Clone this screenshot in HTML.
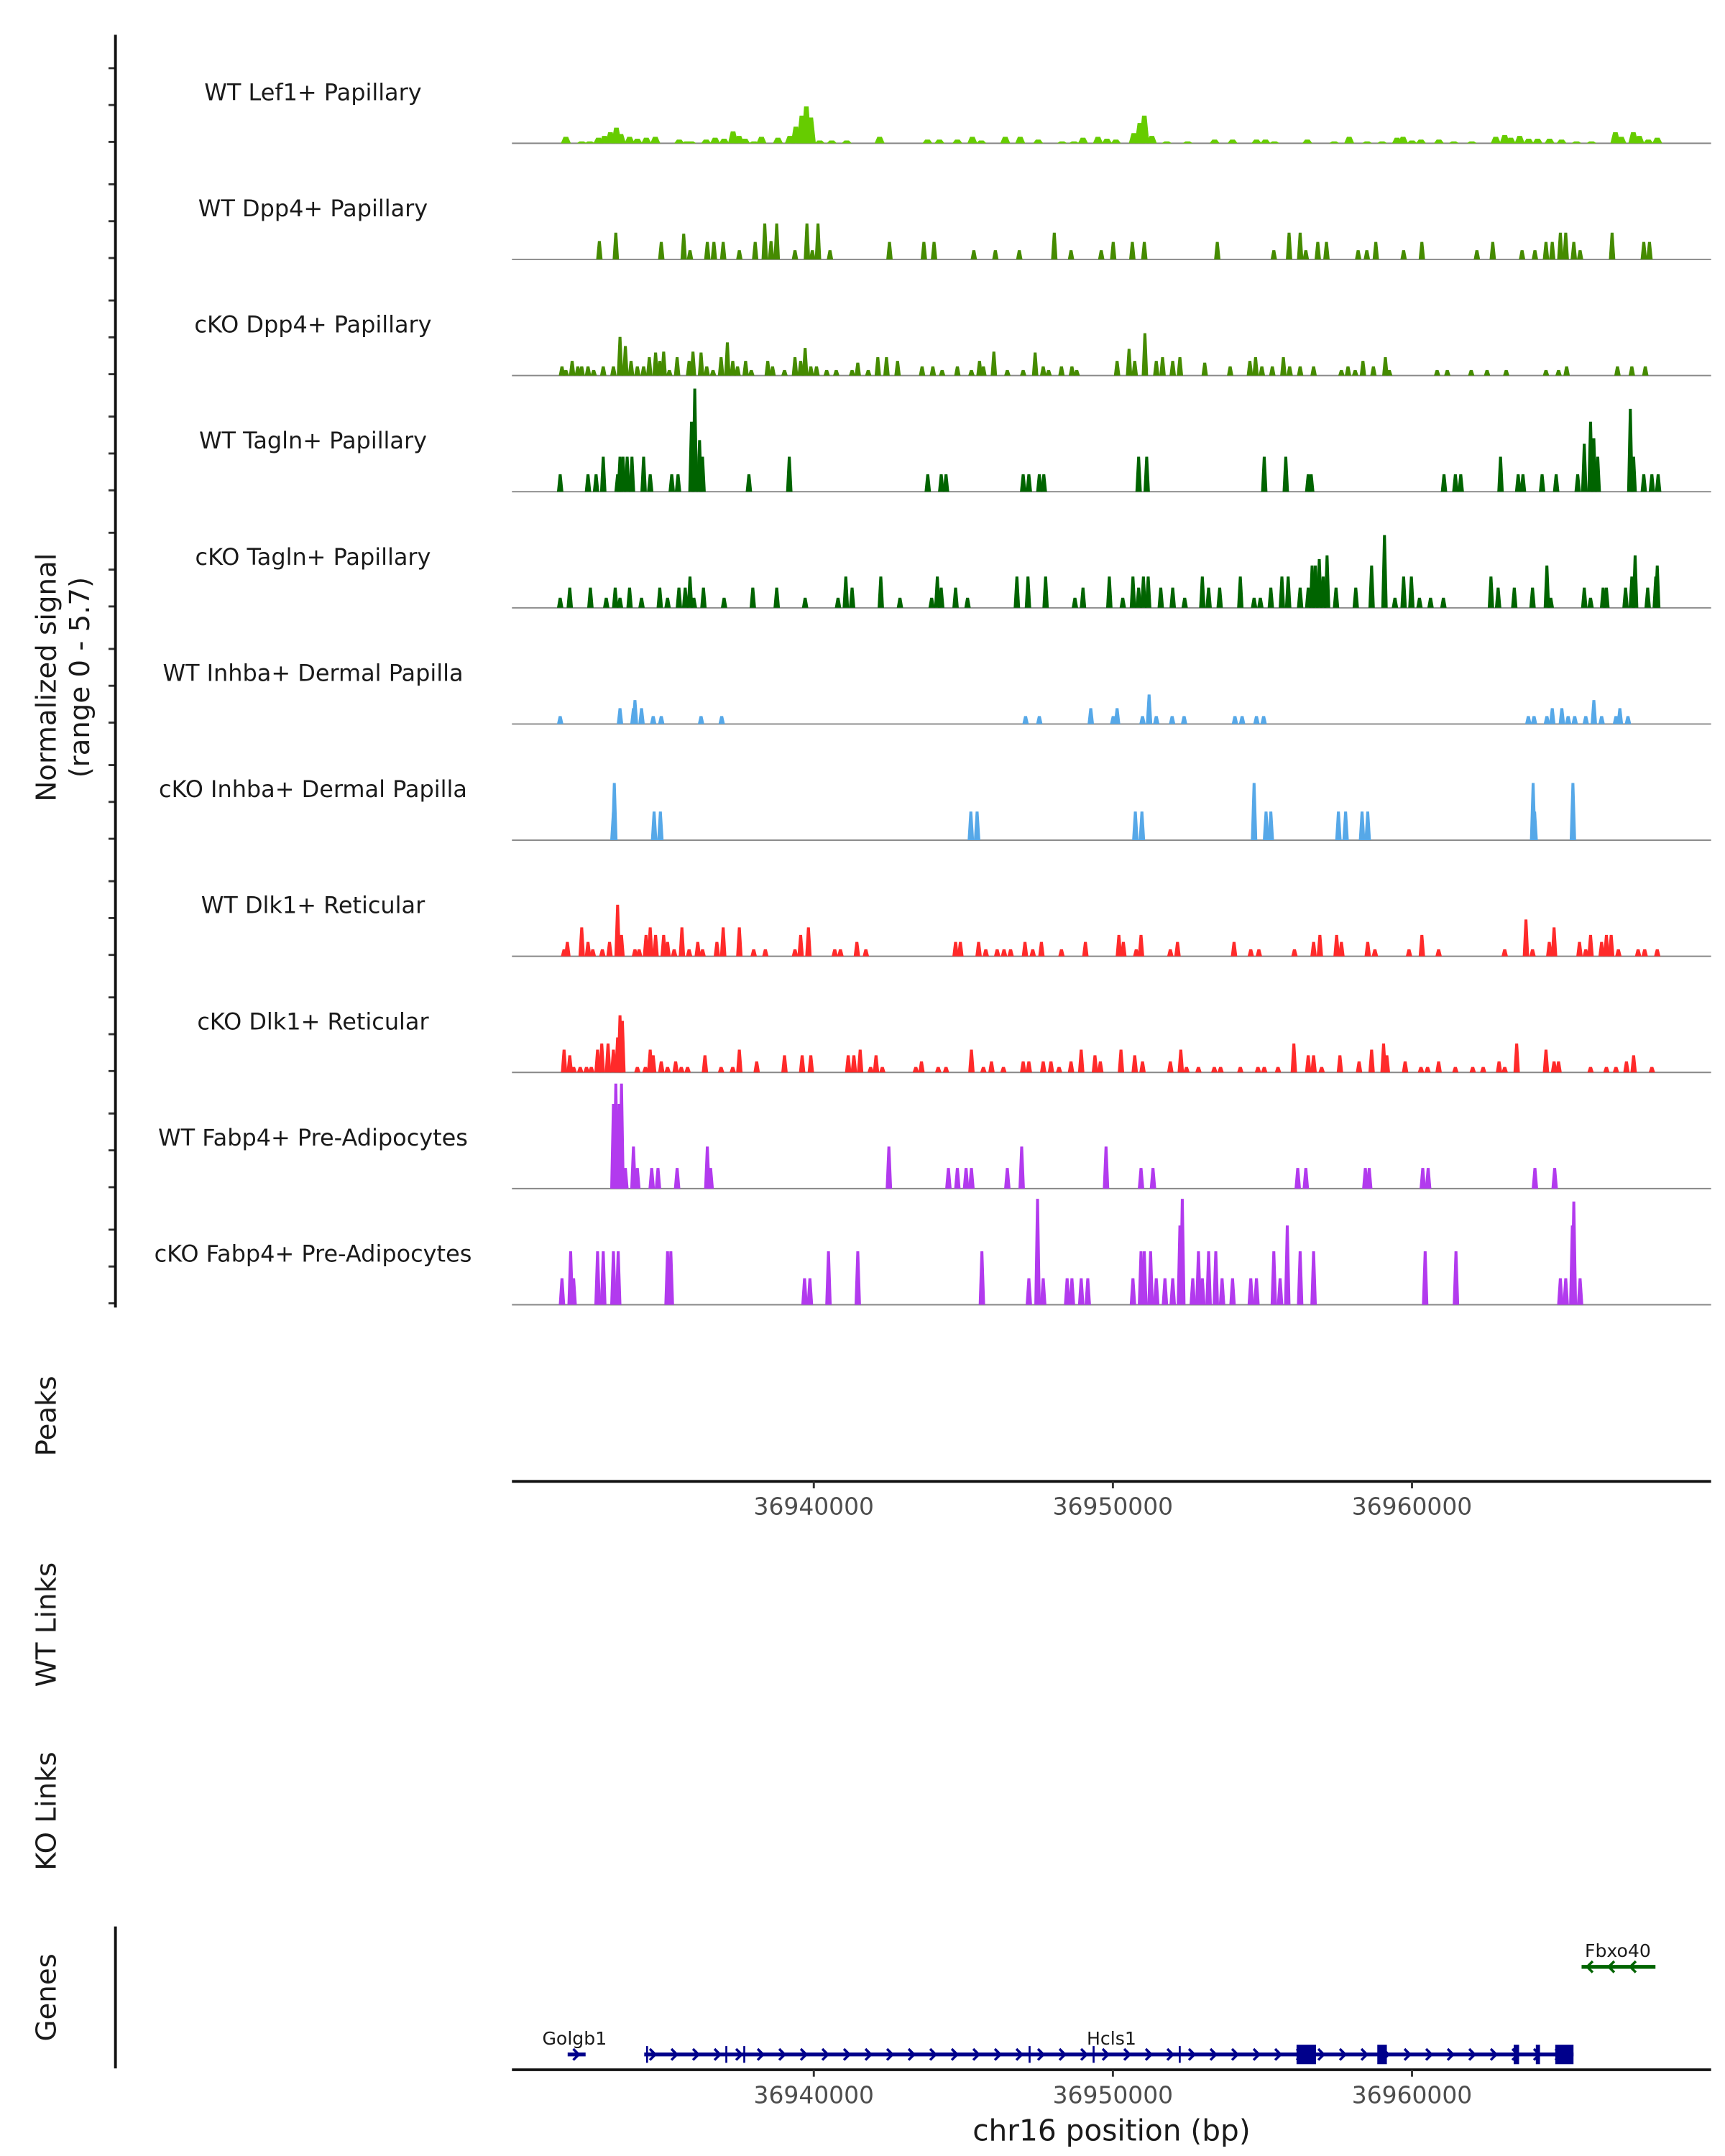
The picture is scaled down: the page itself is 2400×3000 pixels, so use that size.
<!DOCTYPE html>
<html><head><meta charset="utf-8"><style>
html,body{margin:0;padding:0;background:#fff}
svg{display:block}
text{font-family:"DejaVu Sans","Liberation Sans",sans-serif;fill:#1a1a1a}
</style></head><body>
<svg id="chart" width="2400" height="3000" viewBox="0 0 1240 1550" xmlns="http://www.w3.org/2000/svg">
<rect x="0" y="0" width="1240" height="1550" fill="#fff"/>
<g id="tracks"></g>
<g id="axes"></g>
<g id="genes"></g>
</svg>
<script>
// ---- data (positions in kb offset from chr16:36,930,000; values normalized signal) ----
const trackNames = ["WT Lef1+ Papillary","WT Dpp4+ Papillary","cKO Dpp4+ Papillary","WT Tagln+ Papillary","cKO Tagln+ Papillary","WT Inhba+ Dermal Papilla","cKO Inhba+ Dermal Papilla","WT Dlk1+ Reticular","cKO Dlk1+ Reticular","WT Fabp4+ Pre-Adipocytes","cKO Fabp4+ Pre-Adipocytes"];
const trackColors = ["#66cc00","#458b00","#458b00","#006400","#006400","#56a8e8","#56a8e8","#ff2a2a","#ff2a2a","#b23aee","#b23aee"];
const regionStart = 36930000;
const xTicks = [36940000, 36950000, 36960000];
const yTickValues = [0, 2, 4];

const wtLef1 = [[1.71,0.35],[2.24,0.1],[2.51,0.1],[2.8,0.3],[3.0,0.4],[3.2,0.6],[3.4,0.85],[3.55,0.5],[3.84,0.35],[4.1,0.25],[4.4,0.3],[4.7,0.35],[5.5,0.2],[5.75,0.1],[5.9,0.1],[6.4,0.2],[6.7,0.3],[7.0,0.25],[7.3,0.65],[7.5,0.4],[7.7,0.25],[8.0,0.1],[8.25,0.35],[8.8,0.3],[9.2,0.4],[9.4,0.9],[9.6,1.5],[9.75,2.0],[9.9,1.4],[10.2,0.15],[10.6,0.15],[11.1,0.15],[12.2,0.35],[13.8,0.2],[14.2,0.2],[14.8,0.2],[15.3,0.35],[15.6,0.15],[16.4,0.35],[16.9,0.35],[17.5,0.2],[18.3,0.1],[18.7,0.1],[19.0,0.3],[19.5,0.35],[19.8,0.25],[20.1,0.2],[20.7,0.55],[20.9,1.1],[21.05,1.5],[21.3,0.4],[21.8,0.1],[22.5,0.1],[23.4,0.2],[24.0,0.2],[24.8,0.2],[25.1,0.2],[25.4,0.1],[26.5,0.2],[27.4,0.1],[27.9,0.35],[28.5,0.1],[29.0,0.1],[29.5,0.3],[29.7,0.35],[30.0,0.15],[30.3,0.2],[30.9,0.2],[31.4,0.1],[32.0,0.1],[32.8,0.35],[33.1,0.45],[33.3,0.3],[33.6,0.4],[33.9,0.25],[34.2,0.25],[34.6,0.25],[35.0,0.2],[35.5,0.1],[36.0,0.1],[36.8,0.6],[37.0,0.35],[37.4,0.6],[37.6,0.4],[37.9,0.2],[38.2,0.3]];
const wtDpp4 = [[2.83,1.0],[3.38,1.45],[4.9,0.95],[5.65,1.4],[5.86,0.5],[6.44,0.95],[6.66,0.95],[6.97,0.95],[7.51,0.5],[8.04,0.95],[8.36,1.95],[8.57,1.0],[8.76,1.95],[9.37,0.5],[9.77,1.95],[9.95,0.5],[10.14,1.95],[10.54,0.5],[12.53,0.95],[13.68,0.95],[14.02,0.95],[15.35,0.5],[16.07,0.5],[16.87,0.5],[18.04,1.45],[18.6,0.5],[19.61,0.5],[20.01,0.95],[20.65,0.95],[21.05,0.95],[23.49,0.95],[25.38,0.5],[25.89,1.45],[26.26,1.45],[26.45,0.5],[26.85,0.95],[27.14,0.95],[28.2,0.5],[28.49,0.5],[28.79,0.95],[29.72,0.5],[30.33,0.95],[32.17,0.5],[32.7,0.95],[33.68,0.5],[34.11,0.5],[34.48,0.95],[34.69,0.95],[34.96,1.45],[35.14,1.45],[35.41,0.95],[35.62,0.5],[36.69,1.45],[37.75,0.95],[37.94,0.95]];
const ckoDpp4 = [[1.58,0.5],[1.71,0.3],[1.92,0.8],[2.11,0.5],[2.24,0.5],[2.45,0.5],[2.64,0.3],[2.96,0.5],[3.3,0.5],[3.52,2.1],[3.7,1.6],[3.89,0.8],[4.1,0.5],[4.31,0.5],[4.5,1.0],[4.71,1.25],[4.85,0.8],[4.98,1.3],[5.17,0.3],[5.43,1.0],[5.83,0.8],[5.96,1.3],[6.23,1.25],[6.42,0.5],[6.63,0.3],[6.9,1.0],[7.11,1.8],[7.29,0.8],[7.45,0.5],[7.72,0.8],[7.91,0.3],[8.46,0.8],[8.62,0.5],[9.02,0.3],[9.37,1.0],[9.56,0.8],[9.71,1.5],[9.9,0.5],[10.09,0.5],[10.43,0.3],[10.75,0.3],[11.28,0.3],[11.47,0.7],[11.82,0.3],[12.14,1.0],[12.43,1.0],[12.8,0.8],[13.62,0.5],[13.98,0.5],[14.29,0.3],[14.8,0.5],[15.27,0.3],[15.54,0.8],[15.67,0.5],[16.02,1.3],[16.47,0.3],[17.0,0.3],[17.4,1.25],[17.67,0.5],[17.85,0.3],[18.28,0.5],[18.63,0.5],[18.79,0.3],[20.14,0.8],[20.54,1.45],[20.73,0.8],[21.07,2.3],[21.45,0.8],[21.66,1.0],[22.0,0.8],[22.24,1.0],[23.07,0.7],[23.92,0.5],[24.58,0.8],[24.77,1.0],[24.98,0.5],[25.33,0.5],[25.7,1.0],[25.91,0.5],[26.26,0.5],[26.71,0.5],[27.64,0.3],[27.86,0.5],[28.1,0.3],[28.36,0.8],[28.71,0.5],[29.11,1.0],[29.24,0.3],[30.84,0.3],[31.18,0.3],[31.98,0.3],[32.51,0.3],[33.15,0.3],[34.48,0.3],[34.9,0.3],[35.17,0.5],[36.87,0.5],[37.35,0.5],[37.8,0.5]];
const wtTagln = [[1.52,0.95],[2.45,0.95],[2.72,0.95],[2.96,1.9],[3.44,0.95],[3.52,1.9],[3.62,1.9],[3.76,1.9],[3.92,1.9],[4.31,1.9],[4.53,0.95],[5.25,0.95],[5.46,0.95],[5.91,3.8],[6.02,5.6],[6.18,2.8],[6.28,1.9],[7.83,0.95],[9.18,1.9],[13.81,0.95],[14.26,0.95],[14.42,0.95],[17.0,0.95],[17.19,0.95],[17.54,0.95],[17.69,0.95],[20.86,1.9],[21.13,1.9],[25.06,1.9],[25.78,1.9],[26.53,0.95],[26.63,0.95],[31.07,0.95],[31.45,0.95],[31.63,0.95],[32.96,1.9],[33.55,0.95],[33.71,0.95],[34.35,0.95],[34.82,0.95],[35.54,0.95],[35.76,2.6],[35.97,3.8],[36.08,2.9],[36.21,1.9],[37.3,4.5],[37.41,1.9],[37.75,0.95],[38.02,0.95],[38.23,0.95]];
const ckoTagln = [[1.52,0.55],[1.84,1.1],[2.53,1.1],[3.06,0.55],[3.36,1.1],[3.52,0.55],[3.84,1.1],[4.24,0.55],[4.85,1.1],[5.11,0.55],[5.49,1.1],[5.7,1.1],[5.86,1.7],[5.99,0.55],[6.31,1.1],[7.0,0.55],[7.96,1.1],[8.76,1.1],[9.71,0.55],[10.81,0.55],[11.07,1.7],[11.28,1.1],[12.24,1.7],[12.88,0.55],[13.94,0.55],[14.13,1.7],[14.26,1.1],[14.74,1.1],[15.14,0.55],[16.79,1.7],[17.16,1.7],[17.75,1.7],[18.73,0.55],[19.0,1.1],[19.88,1.7],[20.33,0.55],[20.67,1.7],[20.86,1.1],[21.02,1.7],[21.18,1.7],[21.6,1.1],[22.0,1.1],[22.4,0.55],[22.99,1.7],[23.2,1.1],[23.57,1.1],[24.26,1.7],[24.72,0.55],[24.93,0.55],[25.28,1.1],[25.65,1.7],[25.86,1.7],[26.26,1.1],[26.53,1.1],[26.66,2.3],[26.77,2.3],[26.9,2.65],[27.03,1.7],[27.16,2.85],[27.46,1.1],[28.12,1.1],[28.65,2.3],[29.08,3.95],[29.43,0.55],[29.72,1.7],[29.98,1.7],[30.25,0.55],[30.62,0.55],[31.05,0.55],[32.64,1.7],[32.88,1.1],[33.42,1.1],[34.03,1.1],[34.51,2.3],[34.64,0.55],[35.76,1.1],[35.97,0.55],[36.39,1.1],[36.5,1.1],[37.14,1.1],[37.35,1.7],[37.46,2.85],[37.88,1.1],[38.15,1.7],[38.2,2.3]];
const wtInhba = [[1.52,0.43],[3.52,0.86],[3.97,0.86],[4.02,1.3],[4.24,0.86],[4.63,0.43],[4.9,0.43],[6.23,0.43],[6.92,0.43],[17.08,0.43],[17.54,0.43],[19.26,0.86],[20.01,0.43],[20.14,0.86],[20.99,0.43],[21.21,1.6],[21.45,0.43],[21.98,0.43],[22.38,0.43],[24.08,0.43],[24.32,0.43],[24.8,0.43],[25.04,0.43],[33.89,0.43],[34.08,0.43],[34.51,0.43],[34.69,0.86],[35.01,0.86],[35.22,0.43],[35.44,0.43],[35.81,0.43],[36.08,1.3],[36.34,0.43],[36.82,0.43],[36.95,0.86],[37.22,0.43]];
const ckoInhba = [[3.3,1.55],[3.33,3.1],[4.66,1.55],[4.87,1.55],[15.25,1.55],[15.46,1.55],[20.75,1.55],[20.97,1.55],[24.72,3.1],[25.12,1.55],[25.28,1.55],[27.54,1.55],[27.78,1.55],[28.33,1.55],[28.52,1.55],[34.05,3.1],[34.1,1.55],[35.38,3.1]];
const wtDlk1 = [[1.65,0.38],[1.76,0.78],[2.24,1.57],[2.45,0.78],[2.61,0.38],[2.93,0.38],[3.17,0.78],[3.44,2.8],[3.57,1.16],[4.02,0.38],[4.16,0.38],[4.39,1.16],[4.53,1.57],[4.71,1.16],[4.98,1.16],[5.11,0.78],[5.33,0.38],[5.59,1.57],[5.83,0.38],[6.12,0.78],[6.28,0.38],[6.76,0.78],[6.97,1.57],[7.51,1.57],[7.99,0.38],[8.38,0.38],[9.37,0.38],[9.56,1.16],[9.82,1.57],[10.7,0.38],[10.89,0.38],[11.44,0.78],[11.74,0.38],[14.74,0.78],[14.9,0.78],[15.51,0.78],[15.75,0.38],[16.13,0.38],[16.36,0.38],[16.58,0.38],[17.06,0.78],[17.32,0.38],[17.61,0.78],[18.28,0.38],[19.08,0.78],[20.2,1.16],[20.35,0.78],[20.78,0.38],[20.94,1.16],[21.92,0.38],[22.16,0.78],[24.05,0.78],[24.61,0.38],[24.88,0.38],[26.07,0.38],[26.71,0.78],[26.92,1.16],[27.48,1.16],[27.64,0.78],[28.52,0.78],[28.76,0.38],[29.9,0.38],[30.33,1.16],[30.89,0.38],[33.1,0.38],[33.81,2.0],[34.03,0.38],[34.59,0.78],[34.75,1.57],[35.6,0.78],[35.81,0.38],[35.97,1.16],[36.34,0.78],[36.5,1.16],[36.66,1.16],[36.9,0.38],[37.56,0.38],[37.78,0.38],[38.2,0.38]];
const ckoDlk1 = [[1.65,1.24],[1.84,0.93],[1.97,0.3],[2.19,0.3],[2.4,0.3],[2.56,0.3],[2.77,1.24],[2.91,1.57],[3.12,1.57],[3.3,1.24],[3.44,1.9],[3.52,3.1],[3.6,2.8],[4.1,0.3],[4.37,0.3],[4.53,1.24],[4.63,0.93],[4.9,0.6],[5.11,0.3],[5.38,0.6],[5.57,0.3],[5.78,0.3],[6.36,0.93],[6.9,0.3],[7.29,0.3],[7.51,1.24],[8.09,0.6],[9.02,0.93],[9.61,0.93],[9.9,0.93],[11.15,0.93],[11.34,0.93],[11.55,1.24],[11.9,0.3],[12.08,0.93],[12.29,0.3],[13.41,0.3],[13.6,0.6],[14.16,0.3],[14.42,0.3],[15.27,1.24],[15.67,0.3],[15.94,0.6],[16.34,0.3],[17.0,0.6],[17.19,0.6],[17.67,0.6],[17.93,0.6],[18.2,0.3],[18.6,0.6],[18.94,1.24],[19.4,0.93],[19.58,0.6],[20.27,1.24],[20.73,0.93],[20.99,0.6],[21.92,0.6],[22.27,1.24],[22.46,0.3],[22.86,0.3],[23.39,0.3],[23.6,0.3],[24.26,0.3],[24.85,0.3],[25.06,0.3],[25.52,0.3],[26.05,1.57],[26.53,0.93],[26.71,0.93],[26.98,0.3],[27.59,0.93],[28.23,0.6],[28.65,1.24],[29.05,1.57],[29.16,0.93],[29.77,0.6],[30.3,0.3],[30.52,0.3],[30.89,0.6],[31.45,0.3],[32.03,0.3],[32.38,0.3],[32.91,0.6],[33.1,0.3],[33.5,1.57],[34.48,1.24],[34.75,0.6],[34.9,0.6],[35.97,0.3],[36.5,0.3],[36.82,0.3],[37.17,0.6],[37.41,0.93],[38.02,0.3]];
const wtFabp4 = [[3.3,4.6],[3.38,5.7],[3.49,4.6],[3.57,5.7],[3.7,1.12],[3.97,2.28],[4.1,1.12],[4.58,1.12],[4.79,1.12],[5.43,1.12],[6.44,2.28],[6.55,1.12],[12.51,2.28],[14.5,1.12],[14.8,1.12],[15.09,1.12],[15.27,1.12],[16.47,1.12],[16.95,2.28],[19.77,2.28],[20.94,1.12],[21.34,1.12],[26.18,1.12],[26.45,1.12],[28.44,1.12],[28.57,1.12],[30.36,1.12],[30.54,1.12],[34.11,1.12],[34.77,1.12]];
const ckoFabp4 = [[1.58,1.44],[1.87,2.9],[1.97,1.44],[2.77,2.9],[2.96,2.9],[3.3,2.9],[3.46,2.9],[5.11,2.9],[5.22,2.9],[9.69,1.44],[9.87,1.44],[10.49,2.9],[11.47,2.9],[15.62,2.9],[17.19,1.44],[17.48,5.75],[17.67,1.44],[18.47,1.44],[18.63,1.44],[18.94,1.44],[19.16,1.44],[20.67,1.44],[20.94,2.9],[21.05,2.9],[21.26,2.9],[21.45,1.44],[21.74,1.44],[22.0,1.44],[22.24,4.3],[22.32,5.75],[22.67,1.44],[22.86,2.9],[22.99,1.44],[23.2,2.9],[23.44,2.9],[23.65,1.44],[24.0,1.44],[24.61,1.44],[24.8,1.44],[25.38,2.9],[25.59,1.44],[25.83,4.3],[26.26,2.9],[26.71,2.9],[30.44,2.9],[31.47,2.9],[34.96,1.44],[35.14,1.44],[35.36,4.3],[35.41,5.6],[35.62,1.44]];
const trackData = [wtLef1, wtDpp4, ckoDpp4, wtTagln, ckoTagln, wtInhba, ckoInhba, wtDlk1, ckoDlk1, wtFabp4, ckoFabp4];

// gene models (kb offsets)
const golgb1Span = [1.77, 2.37];
const hcls1Span = [4.33, 35.4];
const hcls1SmallExons = [4.42, 7.07, 7.67, 17.21, 19.35, 22.23];
const hcls1Exons = [[26.14,26.79],[28.84,29.16],[33.4,33.58],[34.14,34.28],[34.79,35.4]];
const fbxo40Span = [35.67, 38.14];

// ---- layout ----
const NS = "http://www.w3.org/2000/svg";
const X0 = 368, X1 = 1230;
const firstBase = 103, trackStep = 83.5;
const pxPerUnit = 75.5 / 5.7;
function xScale(kb){ return 370 + kb * 21.5; }
function xGen(bp){ return xScale((bp - regionStart) / 1000); }
function yScale(base, v){ return base - v * pxPerUnit; }
function mk(tag, attrs, parent){ const e = document.createElementNS(NS, tag); for (const k in attrs) e.setAttribute(k, attrs[k]); parent.appendChild(e); return e; }

const tracksG = document.getElementById('tracks');
const axesG = document.getElementById('axes');
const genesG = document.getElementById('genes');

trackNames.forEach((name, i) => {
  const base = firstBase + trackStep * i;
  const g = mk('g', {}, tracksG);
  
  
  const lbl = mk('text', {x: 225, y: base - 31, 'text-anchor': 'middle', 'font-size': 16.5}, g);
  lbl.textContent = name;
  
  
  const bl = mk('line', {x1: X0, x2: X1, y1: base, y2: base, stroke: '#888', 'stroke-width': 1}, g);
  
  
  const hw = i === 0 ? 3.6 : 2.3;
  trackData[i].forEach(d => {
    const x = xScale(d[0]);
    const top = yScale(base, d[1]);
    const p = mk('polygon', {points: `${x-hw},${base} ${x-hw*0.45},${top} ${x+hw*0.45},${top} ${x+hw},${base}`, fill: trackColors[i]}, g);
    
    
  });
  yTickValues.forEach(t => {
    const ty = base - 1 - t * pxPerUnit;
    const tk = mk('line', {x1: 78, x2: 83, y1: ty, y2: ty, stroke: '#333', 'stroke-width': 1.5}, axesG);
    
    
  });
});

mk('line', {x1: 83, x2: 83, y1: 25, y2: 940, stroke: '#111', 'stroke-width': 2,  }, axesG);
const yt = mk('text', {transform: 'translate(40,487) rotate(-90)', 'text-anchor': 'middle', 'font-size': 20,  }, axesG);
yt.textContent = 'Normalized signal';
const yt2 = mk('text', {transform: 'translate(64,487) rotate(-90)', 'text-anchor': 'middle', 'font-size': 20,  }, axesG);
yt2.textContent = '(range 0 - 5.7)';

[['Peaks',1018,'peaks-label'],['WT Links',1168,'wt-links-label'],['KO Links',1302,'ko-links-label'],['Genes',1436,'genes-label']].forEach(s => {
  const t = mk('text', {transform: `translate(40,${s[1]}) rotate(-90)`, 'text-anchor': 'middle', 'font-size': 20}, axesG);
  t.textContent = s[0];
  
  
});

function xAxis(y, name){
  const ln = mk('line', {x1: X0, x2: X1, y1: y, y2: y, stroke: '#111', 'stroke-width': 2}, axesG);
  
  
  xTicks.forEach(v => {
    const x = xGen(v);
    const tk = mk('line', {x1: x, x2: x, y1: y, y2: y + 5, stroke: '#333', 'stroke-width': 1.5}, axesG);
    
    
    const tl = mk('text', {x: x, y: y + 24, 'text-anchor': 'middle', 'font-size': 17}, axesG);
    tl.setAttribute('style', 'fill:#4d4d4d');
    tl.textContent = String(v);
    
    
  });
}
xAxis(1065, 'peaks-x-axis');
xAxis(1488, 'x-axis');
const xt = mk('text', {x: 799, y: 1539, 'text-anchor': 'middle', 'font-size': 21,  }, axesG);
xt.textContent = 'chr16 position (bp)';
mk('line', {x1: 83, x2: 83, y1: 1385, y2: 1487, stroke: '#111', 'stroke-width': 2,  }, axesG);

const gy = 1477, fy = 1414, blue = '#00008b', green = '#006400';
function chevrons(x1, x2, y, dir, color, parent){
  for (let x = x1 + 6; x < x2 - 2; x += 15.5) {
    const c = mk('polyline', {points: `${x-2*dir},${y-4} ${x+2*dir},${y} ${x-2*dir},${y+4}`, fill: 'none', stroke: color, 'stroke-width': 1.8}, parent);
    
    
  }
}
function gene(span, y, color, dir, name, labelX, labelY){
  const g = mk('g', {}, genesG);
  
  
  const a = xScale(span[0]), b = xScale(span[1]);
  mk('line', {x1: a, x2: b, y1: y, y2: y, stroke: color, 'stroke-width': 2.8}, g);
  chevrons(a, b, y, dir, color, g);
  const t = mk('text', {x: labelX, y: labelY, 'text-anchor': 'middle', 'font-size': 13}, g);
  t.textContent = name;
  
  
  return g;
}
gene(golgb1Span, gy, blue, 1, 'Golgb1', 413, 1470);
const hg = gene(hcls1Span, gy, blue, 1, 'Hcls1', 799, 1470);
hcls1SmallExons.forEach(k => {
  const x = xScale(k);
  const e = mk('rect', {x: x - 0.6, y: gy - 6, width: 1.4, height: 12, fill: blue}, hg);
  
  
});
hcls1Exons.forEach(ex => {
  const a = xScale(ex[0]), b = xScale(ex[1]);
  const e = mk('rect', {x: a, y: gy - 7, width: Math.max(b - a, 2), height: 14, fill: blue}, hg);
  
  
});
gene(fbxo40Span, fy, green, -1, 'Fbxo40', 1163, 1407);
</script>
</body></html>
